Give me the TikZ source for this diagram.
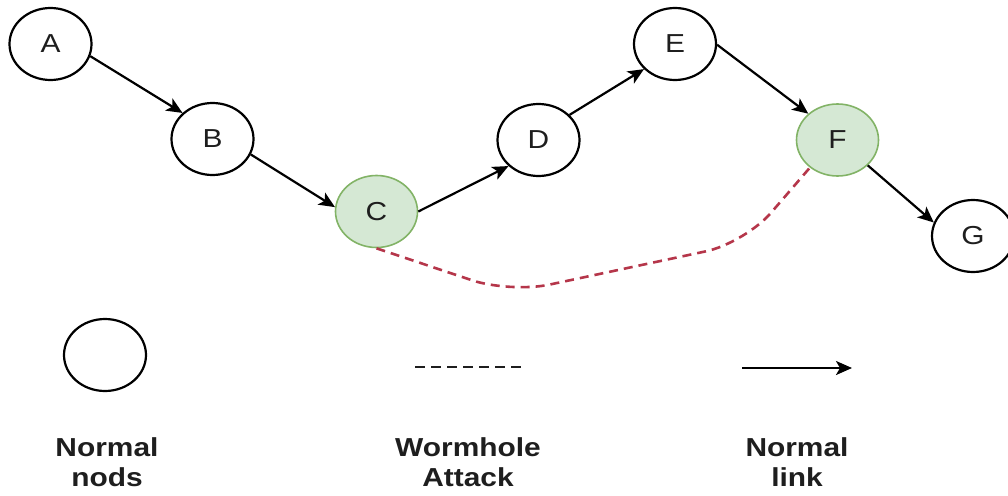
\documentclass[tikz,border=0pt]{standalone}
\usepackage{fontspec}
\setmainfont{Liberation Sans}
\usepackage{graphicx}
\usetikzlibrary{shapes.geometric,arrows.meta}
\definecolor{nodegreen}{HTML}{D5E8D4}
\definecolor{nodegreenline}{HTML}{82B366}
\definecolor{wormred}{HTML}{B5364A}
\definecolor{inkgray}{HTML}{1E1E1E}
% text is drawn slightly wider than tall, like the oval nodes
\newcommand\stretchtext[1]{\scalebox{1.15}[1]{#1}}

\begin{document}
\begin{tikzpicture}[x=1pt,y=-1pt,
  netnode/.style={ellipse, draw=black, line width=2.2pt, fill=white,
    minimum width=82pt, minimum height=72pt, inner sep=0pt,
    font=\fontsize{26}{30}\selectfont, text=inkgray},
  attacked/.style={netnode, fill=nodegreen, draw=nodegreenline, line width=1.6pt},
  link/.style={line width=2.2pt, -{Stealth[length=16pt,width=14pt,inset=4pt]}},
  wormhole/.style={draw=wormred, line width=2.6pt, dash pattern=on 9pt off 6pt,
    rounded corners=40pt},
  legendtext/.style={font=\bfseries\fontsize{26}{30}\selectfont, align=center,
    text=inkgray}
]
\useasboundingbox (0,0) rectangle (1008,495);

% network nodes
\node[netnode]  (A) at (50.5,44)   {\stretchtext{A}};
\node[netnode]  (B) at (212.5,139) {\stretchtext{B}};
\node[attacked] (C) at (376.5,211.5) {\stretchtext{C}};
\node[netnode]  (D) at (538.5,140) {\stretchtext{D}};
\node[netnode]  (E) at (675,44)    {\stretchtext{E}};
\node[attacked] (F) at (837.5,140) {\stretchtext{F}};
\node[netnode]  (G) at (973,236)   {\stretchtext{G}};

% normal links
\draw[link] (A.-17) -- (B.139);
\draw[link] (B.-22) -- (C.174);
\draw[link] (C.0)   -- (D.221);
\draw[link] (D.39)  -- (E.219);
\draw[link] (E.-1)  -- (F.138);
\draw[link] (F.-40) -- (G.161);

% wormhole tunnel between C and F
\coordinate (w1) at (510,293);
\coordinate (w2) at (745,243);
\draw[wormhole] (C.south) -- (w1) -- (w2) -- (F.225);

% legend
\node[netnode] (legnode) at (105,355) {};
\coordinate (dashL) at (415,367);
\coordinate (dashR) at (525,367);
\draw[draw=inkgray, line width=2pt, dash pattern=on 10pt off 6pt] (dashL) -- (dashR);
\coordinate (linkL) at (742,368);
\coordinate (linkR) at (852,368);
\draw[link] (linkL) -- (linkR);

\node[legendtext] (lt1) at (107,462) {\stretchtext{Normal}\\\stretchtext{nods}};
\node[legendtext] (lt2) at (468,462) {\stretchtext{Wormhole}\\\stretchtext{Attack}};
\node[legendtext] (lt3) at (797,462) {\stretchtext{Normal}\\\stretchtext{link}};
\end{tikzpicture}
\end{document}
